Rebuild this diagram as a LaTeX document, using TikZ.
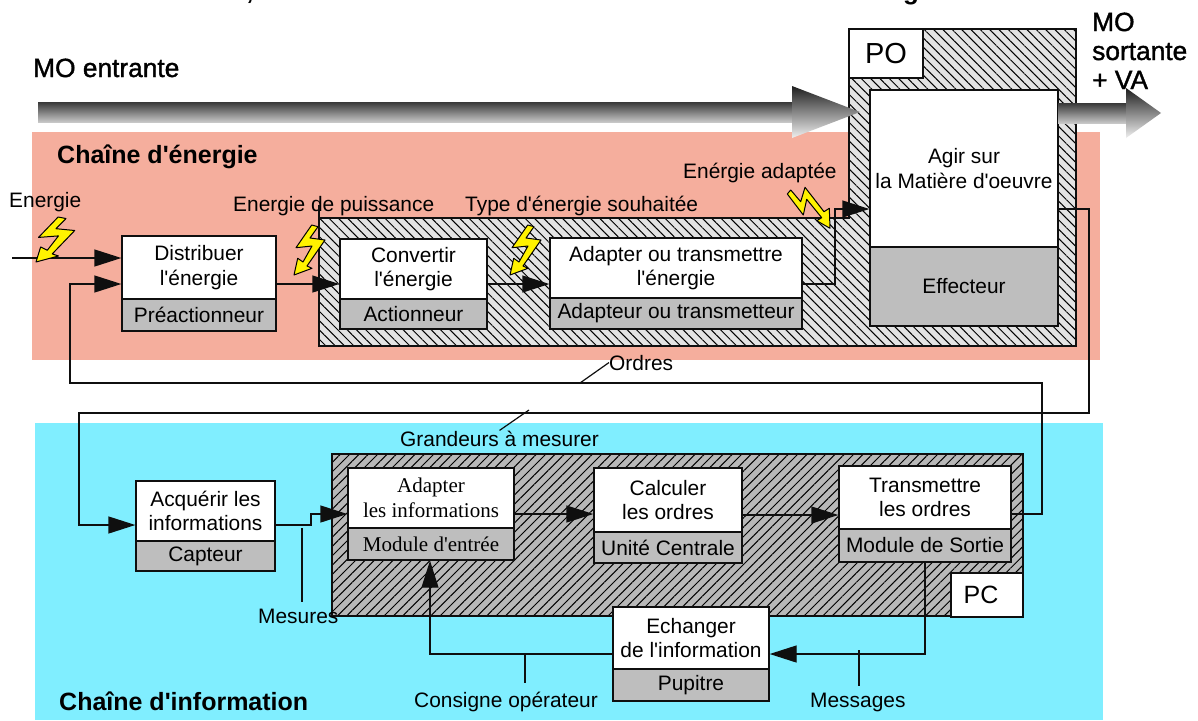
\documentclass[tikz,border=0pt]{standalone}
\usepackage{fontspec}
\setmainfont[Ligatures=TeXOff]{Liberation Sans}
\newfontfamily\headfont[FakeBold=1.4]{Liberation Sans}
\newfontfamily\serifpartfont{Liberation Serif}
\usetikzlibrary{arrows.meta}
\usetikzlibrary{patterns.meta}
\definecolor{energyPink}{RGB}{245,174,157}
\definecolor{infoCyan}{RGB}{128,238,255}
\definecolor{partGrey}{RGB}{190,190,190}
\definecolor{lineBlack}{RGB}{15,15,15}

\begin{document}
\begin{tikzpicture}[x = 1pt, y = -1pt, font=\fontsize{20.9}{24.5}\selectfont]
	\tikzstyle{funcStyle}=[draw = lineBlack, line width = 1.3pt, fill = white, inner sep = 0pt, align = center]
	\tikzstyle{partStyle}=[funcStyle, fill = partGrey]
	\tikzstyle{labelStyle}=[inner sep = 0pt, anchor = base west]
	\tikzstyle{headStyle}=[labelStyle, font=\headfont\fontsize{26.3}{30}\selectfont]
	\tikzstyle{chainStyle}=[labelStyle, font=\bfseries\fontsize{25}{30}\selectfont]
	\tikzstyle{flowStyle}=[draw = lineBlack, line width = 1.3pt, -{Triangle[length = 27pt, width = 17pt]}]
	\tikzstyle{wireStyle}=[draw = lineBlack, line width = 1.2pt]
	\tikzstyle{boltStyle}=[draw = black, line width = 1pt, fill = yellow, line join = round]
	\tikzstyle{massStyle}=[top color = black!78, bottom color = black!22, draw = none]
	\tikzstyle{tipStyle}=[top color = black!88, bottom color = black!6, draw = none]
	\useasboundingbox (0,0) rectangle (1198,720);
	\fill[white] (0,0) rectangle (1198,720);
	\fill[energyPink] (32,132) rectangle (1100,360);
	\fill[infoCyan] (35,423) rectangle (1103,720);
	\node[inner sep = 0pt, anchor = base, font=\bfseries\fontsize{26}{30}\selectfont] (cutComma) at (250,-1) {,};
	\node[inner sep = 0pt, anchor = base, font=\bfseries\fontsize{26}{30}\selectfont] (cutLetter) at (911,-1) {g};
	\node[headStyle] (moIn) at (33,77) {MO entrante};
	\node[headStyle] (moOut1) at (1092,31) {MO};
	\node[headStyle] (moOut2) at (1092,60) {sortante};
	\node[headStyle] (moOut3) at (1092,89) {+ VA};
	\draw[lineBlack, line width = 1.3pt, preaction = {fill = black!11}, pattern = {Lines[angle = -45, distance = 6.6pt, line width = 1pt]}]
		(319,218) -- (849,218) -- (849,29) -- (1076,29) -- (1076,346) -- (319,346) -- cycle;
	\draw[lineBlack, line width = 1.3pt, preaction = {fill = black!28}, pattern = {Lines[angle = 45, distance = 6.6pt, line width = 1pt]}]
		(332,454) rectangle (1023,616);
	\node[funcStyle, minimum width = 74pt, minimum height = 49pt, font=\fontsize{29}{30}\selectfont] (po) at (886,53.5) {PO};
	\node[funcStyle, minimum width = 72pt, minimum height = 44pt, font=\fontsize{25}{30}\selectfont] (pc) at (987,595) {PC\hspace{12pt}};
	\node[funcStyle, minimum width = 154pt, minimum height = 63pt] (distribuer) at (199,267.5) {Distribuer\\l'énergie};
	\node[partStyle, minimum width = 154pt, minimum height = 32pt] (preact) at (199,315) {Préactionneur};
	\node[funcStyle, minimum width = 147pt, minimum height = 60pt] (convertir) at (413.5,269) {Convertir\\l'énergie};
	\node[partStyle, minimum width = 147pt, minimum height = 30pt] (actionneur) at (413.5,314) {Actionneur};
	\node[funcStyle, minimum width = 252pt, minimum height = 60pt] (adapterE) at (676,268) {Adapter ou transmettre\\l'énergie};
	\node[partStyle, minimum width = 252pt, minimum height = 31pt] (adaptateur) at (676,313.5) {Adapteur ou transmetteur};
	\node[funcStyle, minimum width = 188pt, minimum height = 157pt] (agir) at (964,168.5) {Agir sur\\la Matière d'oeuvre};
	\node[partStyle, minimum width = 188pt, minimum height = 79pt] (effecteur) at (964,286.5) {Effecteur};
	\node[funcStyle, minimum width = 139pt, minimum height = 60pt] (acquerir) at (205.5,511) {Acquérir les\\informations};
	\node[partStyle, minimum width = 139pt, minimum height = 30pt] (capteur) at (205.5,556) {Capteur};
	\node[funcStyle, minimum width = 166pt, minimum height = 60pt, font=\serifpartfont\fontsize{21}{24.5}\selectfont] (adapterI) at (431,498) {Adapter\\les informations};
	\node[partStyle, minimum width = 166pt, minimum height = 32pt, font=\serifpartfont\fontsize{21}{24.5}\selectfont] (entree) at (431,544) {Module d'entrée};
	\node[funcStyle, minimum width = 148pt, minimum height = 64pt] (calculer) at (668,500) {Calculer\\les ordres};
	\node[partStyle, minimum width = 148pt, minimum height = 31pt] (unite) at (668,547.5) {Unité Centrale};
	\node[funcStyle, minimum width = 172pt, minimum height = 63pt] (transmettre) at (925,497.5) {Transmettre\\les ordres};
	\node[partStyle, minimum width = 172pt, minimum height = 33pt] (sortie) at (925,545.5) {Module de Sortie};
	\node[funcStyle, minimum width = 156pt, minimum height = 62pt] (echanger) at (691,638) {Echanger\\de l'information};
	\node[partStyle, minimum width = 156pt, minimum height = 32pt] (pupitre) at (691,685) {Pupitre};
	\node[chainStyle] (chainE) at (57,163) {Chaîne d'énergie};
	\node[chainStyle] (chainI) at (59,710) {Chaîne d'information};
	\node[labelStyle] (energie) at (9,207) {Energie};
	\node[labelStyle] (puissance) at (233,211) {Energie de puissance};
	\node[labelStyle] (souhaitee) at (465,211) {Type d'énergie souhaitée};
	\node[labelStyle] (adaptee) at (683,178) {Enérgie adaptée};
	\node[labelStyle] (ordres) at (609,370) {Ordres};
	\node[labelStyle] (grandeurs) at (400,446) {Grandeurs à mesurer};
	\node[labelStyle] (mesures) at (258,623) {Mesures};
	\node[labelStyle] (consigne) at (414,707) {Consigne opérateur};
	\node[labelStyle] (messages) at (810,707) {Messages};
	\coordinate (energieIn) at (12,258);
	\coordinate (ordresTick) at (580,383);
	\coordinate (grandeursTick) at (529,410);
	\coordinate (mesuresTick) at (302,528);
	\coordinate (consigneTick) at (525,654);
	\coordinate (messagesTick) at (859,650);
	\coordinate (puissanceTick) at (319,205);
	\coordinate (puissanceEnd) at (319,218);
	\draw[flowStyle] (energieIn) -- (energieIn -| distribuer.west);
	\draw[flowStyle] (distribuer.east |- 0,284) -- (convertir.west |- 0,284);
	\draw[flowStyle] (convertir.east |- 0,284) -- (adapterE.west |- 0,284);
	\draw[flowStyle] (adapterE.east |- 0,284) -- (835,284) -- (835,209) -- (agir.west |- 0,209);
	\draw[flowStyle] (agir.east |- 0,209) -- (1089,209) -- (1089,413) -- (79,413) -- (79,525) -- (acquerir.west |- 0,525);
	\draw[flowStyle] (transmettre.east |- 0,514) -- (1042,514) -- (1042,383) -- (70,383) -- (70,284) -- (distribuer.west |- 0,284);
	\draw[flowStyle] (acquerir.east |- 0,525) -- (311,525) -- (311,514) -- (adapterI.west |- 0,514);
	\draw[flowStyle] (adapterI.east |- 0,514) -- (calculer.west |- 0,514);
	\draw[flowStyle] (calculer.east |- 0,515) -- (transmettre.west |- 0,515);
	\draw[flowStyle] (sortie.south) -- (925,654) -- (echanger.east |- 0,654);
	\draw[flowStyle] (echanger.west |- 0,654) -- (430,654) -- (entree.south -| 430,0);
	\draw[wireStyle] (ordresTick) -- (ordres.west);
	\draw[wireStyle] (grandeursTick) -- (grandeurs.north);
	\draw[wireStyle, shorten >= 6pt] (mesuresTick) -- (mesuresTick |- mesures.north);
	\draw[wireStyle, shorten >= 8pt] (consigneTick) -- (consigneTick |- consigne.north);
	\draw[wireStyle, shorten >= 6pt] (messagesTick) -- (messagesTick |- messages.north);
	\draw[wireStyle] (puissanceTick) -- (puissanceEnd);
	\foreach \tipx/\tipy/\wide/\tall in {36/262/1.25/0.9, 294/275/1/1, 510/275/1/1}
		\draw[boltStyle, shift = {(\tipx,\tipy)}, xscale = \wide, yscale = \tall]
			(0,0) -- (3.7,-16.7) -- (9,-13) -- (18,-29) -- (2,-27.3) -- (17.7,-50) -- (24,-48.3) -- (16,-37) -- (31,-35) -- (13,-9) -- (18,-6.7) -- cycle;
	\draw[boltStyle] (787.3,194) -- (790.7,190) -- (800.7,201.7) -- (805,187.3) -- (824,211.7) -- (829.3,208.3) -- (830,228.3) -- (816.7,220.7) -- (821.7,217.7) -- (806.7,199.3) -- (803.3,215) -- cycle;
	\shade[massStyle] (38,102) rectangle (793,122);
	\shade[tipStyle] (792,86) -- (860,112) -- (792,138) -- cycle;
	\shade[massStyle] (1058,103) rectangle (1127,123);
	\shade[tipStyle] (1126,88) -- (1161,113) -- (1126,138) -- cycle;
\end{tikzpicture}
\end{document}
